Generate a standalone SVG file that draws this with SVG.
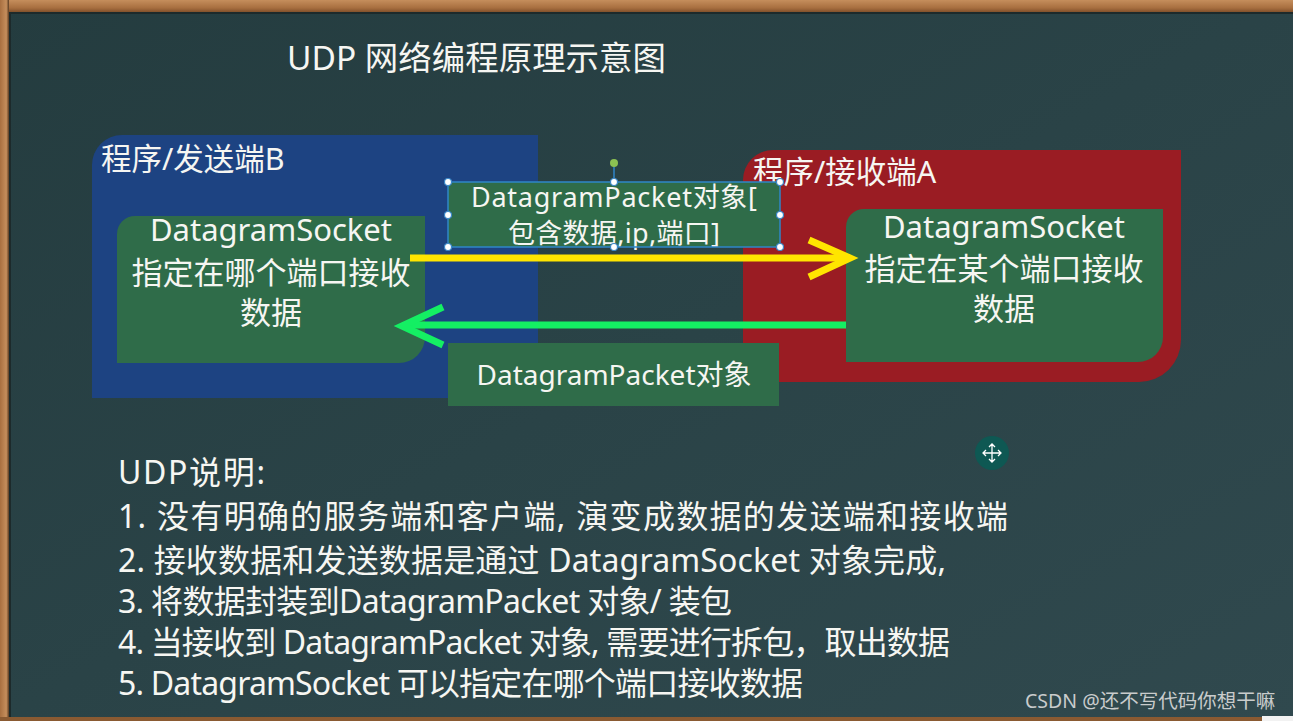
<svg xmlns="http://www.w3.org/2000/svg" width="1293" height="721" viewBox="0 0 1293 721">
<defs>
<linearGradient id="board" x1="0" y1="0" x2="1" y2="1">
<stop offset="0" stop-color="#243c3f"/>
<stop offset="0.5" stop-color="#2a4347"/>
<stop offset="1" stop-color="#30494e"/>
</linearGradient>
<linearGradient id="wood" x1="0" y1="0" x2="0" y2="1">
<stop offset="0" stop-color="#c58e5c"/>
<stop offset="0.6" stop-color="#a86f40"/>
<stop offset="1" stop-color="#7a4a26"/>
</linearGradient>
<linearGradient id="woodv" x1="0" y1="0" x2="1" y2="0">
<stop offset="0" stop-color="#a86f40"/>
<stop offset="0.7" stop-color="#c58e5c"/>
<stop offset="1" stop-color="#5a3a20"/>
</linearGradient>
<style>
.t{font-family:"Noto Sans","Noto Sans CJK SC",sans-serif;fill:#f6f6f2;}
.c{text-anchor:middle;}
.green{fill:#2f6c49;}
.h{fill:#ffffff;stroke:#3b87c8;stroke-width:1.2;}
.arrow{fill:none;stroke-width:7;stroke-linecap:butt;stroke-linejoin:miter;}
.n{font-size:32px;}
</style>
</defs>
<rect x="0" y="0" width="1293" height="721" fill="url(#board)"/>
<rect x="0" y="0" width="1293" height="13" fill="url(#wood)"/>
<rect x="0" y="12" width="1293" height="2" fill="#1d2a2b"/>
<rect x="0" y="0" width="9" height="721" fill="url(#woodv)"/>
<rect x="9" y="13" width="2" height="708" fill="#1d2a2b"/>
<rect x="0" y="717" width="1293" height="4" fill="#8a5a32"/>
<rect x="1262" y="716" width="31" height="5" fill="#f2f2f2"/>

<g id="title">
<text class="t" x="287" y="70" font-size="33" textLength="379" lengthAdjust="spacingAndGlyphs">UDP 网络编程原理示意图</text>
</g>

<g id="sender-B">
<path d="M92,165 A30,30 0 0 1 122,135 H538 V398 H92 Z" fill="#1d4382"/>
<text class="t" x="101" y="170" font-size="30.5">程序/发送端B</text>
</g>

<g id="receiver-A">
<path d="M743,180 A30,30 0 0 1 773,150 H1181 V340 A42,42 0 0 1 1139,382 H743 Z" fill="#9a1c23"/>
<text class="t" x="753" y="183" font-size="30.5">程序/接收端A</text>
</g>

<g id="socket-B">
<path d="M117,234 A18,18 0 0 1 135,216 H425 V337 A26,26 0 0 1 399,363 H117 Z" class="green"/>
<text class="t c" x="271" y="241" font-size="31">DatagramSocket</text>
<text class="t c" x="271" y="284" font-size="31">指定在哪个端口接收</text>
<text class="t c" x="271" y="324" font-size="31">数据</text>
</g>

<g id="socket-A">
<path d="M846,227 A18,18 0 0 1 864,209 H1163 V337 A25,25 0 0 1 1138,362 H846 Z" class="green"/>
<text class="t c" x="1004" y="238" font-size="31">DatagramSocket</text>
<text class="t c" x="1004" y="280" font-size="31">指定在某个端口接收</text>
<text class="t c" x="1004" y="320" font-size="31">数据</text>
</g>

<g id="connectors">
<path class="arrow" stroke="#ffe500" d="M410,258 H846"/>
<path class="arrow" stroke="#ffe500" d="M809,240 L850,258 L809,277"/>
<path class="arrow" stroke="#14ef63" d="M846,325 H406"/>
<path class="arrow" stroke="#14ef63" d="M443,307 L402,326 L443,345"/>
</g>

<g id="packet-send">
<rect x="448" y="182" width="332" height="65" class="green"/>
<text class="t c" x="614" y="207" font-size="27" textLength="286" lengthAdjust="spacing">DatagramPacket对象[</text>
<text class="t c" x="614" y="243" font-size="27" textLength="212" lengthAdjust="spacing">包含数据,ip,端口]</text>
<rect x="448" y="182" width="332" height="65" fill="none" stroke="#2f86c8" stroke-width="1.5"/>
<line x1="614" y1="182" x2="614" y2="164" stroke="#2f86c8" stroke-width="1.5"/>
<circle cx="614" cy="163" r="4" fill="#8cc152"/>
<circle cx="448" cy="182" r="3.5" class="h"/>
<circle cx="614" cy="182" r="3.5" class="h"/>
<circle cx="780" cy="182" r="3.5" class="h"/>
<circle cx="448" cy="215" r="3.5" class="h"/>
<circle cx="780" cy="215" r="3.5" class="h"/>
<circle cx="448" cy="247" r="3.5" class="h"/>
<circle cx="614" cy="247" r="3.5" class="h"/>
<circle cx="780" cy="247" r="3.5" class="h"/>
</g>

<g id="packet-return">
<rect x="448" y="343" width="331" height="63" class="green"/>
<text class="t c" x="614" y="385" font-size="28">DatagramPacket对象</text>
</g>

<g id="move-cursor">
<circle cx="992" cy="453" r="17" fill="#0e5853"/>
<path d="M992,444 V462 M983,453 H1001 M989,447 L992,444 L995,447 M989,459 L992,462 L995,459 M986,450 L983,453 L986,456 M998,450 L1001,453 L998,456" fill="none" stroke="#ffffff" stroke-width="1.3"/>
</g>

<g id="notes">
<text class="t n" x="118" y="484" textLength="147" lengthAdjust="spacing">UDP说明:</text>
<text class="t n" x="118" y="528" textLength="890" lengthAdjust="spacing">1. 没有明确的服务端和客户端, 演变成数据的发送端和接收端</text>
<text class="t n" x="118" y="572" textLength="828" lengthAdjust="spacing">2. 接收数据和发送数据是通过 DatagramSocket 对象完成,</text>
<text class="t n" x="118" y="613" textLength="614" lengthAdjust="spacing">3. 将数据封装到DatagramPacket 对象/ 装包</text>
<text class="t n" x="118" y="654" textLength="832" lengthAdjust="spacing">4. 当接收到 DatagramPacket 对象, 需要进行拆包，取出数据</text>
<text class="t n" x="118" y="695" textLength="685" lengthAdjust="spacing">5. DatagramSocket 可以指定在哪个端口接收数据</text>
</g>

<g id="watermark">
<text x="1025" y="708" font-size="19.5" font-family="'Noto Sans','Noto Sans CJK SC',sans-serif" fill="#c9cccc">CSDN @还不写代码你想干嘛</text>
</g>
</svg>
